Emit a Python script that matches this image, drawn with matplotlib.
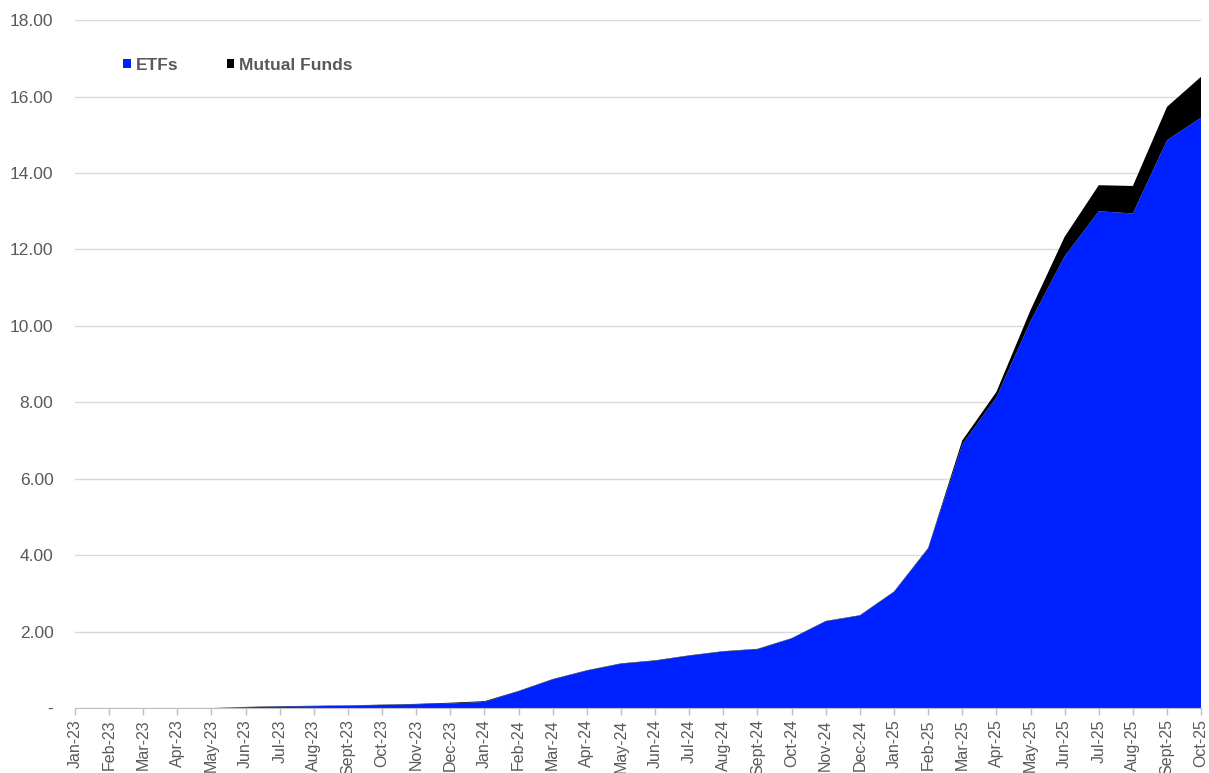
import matplotlib
matplotlib.use("Agg")
import matplotlib.pyplot as plt
from matplotlib.patches import Patch
import numpy as np

months = ["Jan-23", "Feb-23", "Mar-23", "Apr-23", "May-23", "Jun-23", "Jul-23", "Aug-23",
          "Sept-23", "Oct-23", "Nov-23", "Dec-23", "Jan-24", "Feb-24", "Mar-24", "Apr-24",
          "May-24", "Jun-24", "Jul-24", "Aug-24", "Sept-24", "Oct-24", "Nov-24", "Dec-24",
          "Jan-25", "Feb-25", "Mar-25", "Apr-25", "May-25", "Jun-25", "Jul-25", "Aug-25",
          "Sept-25", "Oct-25"]

etfs = [0.0, 0.0, 0.0, 0.0, 0.0, 0.02, 0.04, 0.05, 0.06, 0.08, 0.10, 0.12,
        0.16, 0.44, 0.75, 0.98, 1.16, 1.24, 1.37, 1.48, 1.54, 1.82, 2.27, 2.42,
        3.04, 4.17, 6.90, 8.13, 10.12, 11.82, 13.00, 12.94, 14.86, 15.45]

mutual_funds = [0.0, 0.0, 0.0, 0.0, 0.0, 0.01, 0.01, 0.01, 0.01, 0.01, 0.01, 0.02,
                0.02, 0.01, 0.01, 0.01, 0.01, 0.01, 0.01, 0.01, 0.01, 0.01, 0.01, 0.01,
                0.01, 0.02, 0.10, 0.14, 0.29, 0.51, 0.68, 0.72, 0.87, 1.07]

y_ticks = [0, 2, 4, 6, 8, 10, 12, 14, 16, 18]
y_tick_labels = ["-", "2.00", "4.00", "6.00", "8.00", "10.00", "12.00", "14.00", "16.00", "18.00"]

blue = "#0021FF"
black = "#000000"
grey_text = "#595959"

plt.rcParams["font.family"] = ["Liberation Sans", "DejaVu Sans"]

fig = plt.figure(figsize=(12.09, 7.73), dpi=100)
ax = fig.add_axes([0.062, 0.084, 0.9315, 0.89])

x = np.arange(len(months))
ax.stackplot(x, etfs, mutual_funds, colors=[blue, black], linewidth=0)

ax.set_xlim(0, len(months) - 1)
ax.set_ylim(0, 18)

ax.set_yticks(y_ticks)
ax.set_yticklabels(y_tick_labels, color=grey_text, fontsize=12.5)
ax.tick_params(axis="y", length=0, pad=15.5)
ax.yaxis.grid(True, color="#d9d9d9", linewidth=1.0)
ax.set_axisbelow(True)

ax.set_xticks(x)
ax.set_xticklabels(months, rotation=90, color=grey_text, fontsize=11.5)
ax.tick_params(axis="x", length=5, color="#bfbfbf", width=1, pad=3)

for side in ["top", "right", "left"]:
    ax.spines[side].set_visible(False)
ax.spines["bottom"].set_color("#bfbfbf")
ax.spines["bottom"].set_zorder(5)

handles = [Patch(facecolor=blue, label="ETFs"), Patch(facecolor=black, label="Mutual Funds")]
leg = ax.legend(handles=handles, loc="upper left", bbox_to_anchor=(0.029, 0.968), ncol=2,
                frameon=False, handlelength=0.45, handleheight=0.45, handletextpad=0.25,
                columnspacing=2.8, prop={"weight": "bold", "size": 12.5})
for t in leg.get_texts():
    t.set_color(grey_text)

fig.savefig("out.png", dpi=100, facecolor="white")
